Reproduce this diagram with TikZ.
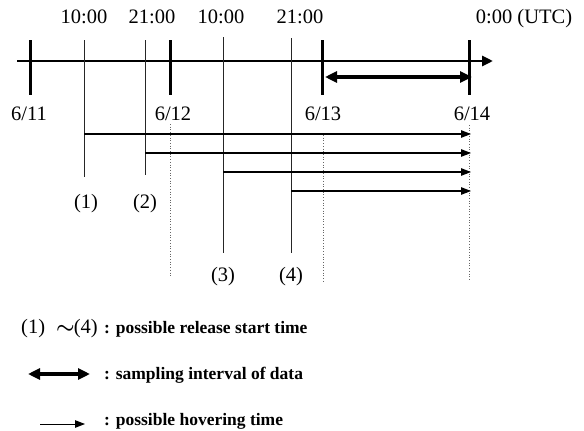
\documentclass[tikz,border=0pt]{standalone}
\usepackage{fontspec}
\setmainfont{Liberation Serif}
\usetikzlibrary{arrows.meta}
\begin{document}
\begin{tikzpicture}[x=1pt,y=-1pt,
  lbl/.style={inner sep=0pt,anchor=base,font=\fontsize{20.5}{21}\selectfont},
  leg/.style={inner sep=0pt,anchor=base west,font=\fontsize{17.5}{18}\selectfont\bfseries},
  axisline/.style={line width=2.8pt,-{Triangle[length=11pt,width=10pt]}},
  daytick/.style={line width=3pt},
  hourline/.style={line width=1pt,black!85},
  guide/.style={line width=0.7pt,dotted,black!60},
  hover/.style={line width=1.2pt,-{Triangle[length=10pt,width=7.5pt]}},
  sampling/.style={line width=3.6pt,{Triangle[length=12pt,width=11pt]}-{Triangle[length=12pt,width=11pt]}},
]
\useasboundingbox (0,0) rectangle (584,431);

% time axis
\coordinate (ax0) at (17,61);
\coordinate (ax1) at (493,61);
\draw[axisline] (ax0) -- (ax1);

% day ticks
\foreach \n/\x in {d11/30,d12/170,d13/322,d14/469}{
  \coordinate (\n t) at (\x,40);
  \coordinate (\n b) at (\x,95);
  \draw[daytick] (\n t) -- (\n b);
}

% dotted day guides
\coordinate (g12t) at (170,124); \coordinate (g12b) at (170,277);
\coordinate (g13t) at (323,135); \coordinate (g13b) at (323,282);
\coordinate (g14t) at (469,125); \coordinate (g14b) at (469,280);
\draw[guide] (g12t) -- (g12b);
\draw[guide] (g13t) -- (g13b);
\draw[guide] (g14t) -- (g14b);

% release start lines
\coordinate (r1t) at (84,40);  \coordinate (r1b) at (84,177);
\coordinate (r2t) at (145,40); \coordinate (r2b) at (145,175);
\coordinate (r3t) at (223,37); \coordinate (r3b) at (223,253);
\coordinate (r4t) at (291,38); \coordinate (r4b) at (291,253);
\draw[hourline] (r1t) -- (r1b);
\draw[hourline] (r2t) -- (r2b);
\draw[hourline] (r3t) -- (r3b);
\draw[hourline] (r4t) -- (r4b);

% hovering arrows
\coordinate (h1s) at (84,134);  \coordinate (h1e) at (471,134);
\coordinate (h2s) at (145,153); \coordinate (h2e) at (471,153);
\coordinate (h3s) at (223,172); \coordinate (h3e) at (471,172);
\coordinate (h4s) at (291,191); \coordinate (h4e) at (471,191);
\draw[hover] (h1s) -- (h1e);
\draw[hover] (h2s) -- (h2e);
\draw[hover] (h3s) -- (h3e);
\draw[hover] (h4s) -- (h4e);

% sampling interval
\coordinate (s0) at (325,77);
\coordinate (s1) at (472,77);
\draw[sampling] (s0) -- (s1);

% hour labels
\node[lbl] (t1) at (84,23.5) {10:00};
\node[lbl] (t2) at (152,23.5) {21:00};
\node[lbl] (t3) at (221,23.5) {10:00};
\node[lbl] (t4) at (300,23.5) {21:00};
\node[lbl] (t5) at (524,23.5) {0:00 (UTC)};

% date labels
\node[lbl] (l11) at (29,120) {6/11};
\node[lbl] (l12) at (173,120) {6/12};
\node[lbl] (l13) at (323,120) {6/13};
\node[lbl] (l14) at (472,120) {6/14};

% case numbers
\node[lbl] (c1) at (86,208) {(1)};
\node[lbl] (c2) at (145,208) {(2)};
\node[lbl] (c3) at (223,281) {(3)};
\node[lbl] (c4) at (291,281) {(4)};

% legend
\node[lbl,anchor=base west] (k1) at (21,333) {(1)};
\node[lbl,anchor=base west] (k4) at (56,333) {{\boldmath$\sim$}\kern-1pt(4)};
\node[leg] (k1t) at (104,333) {: possible release start time};

\coordinate (ks0) at (28,374);
\coordinate (ks1) at (90,374);
\draw[sampling,line width=4pt] (ks0) -- (ks1);
\node[leg] (k2t) at (104,379) {: sampling interval of data};

\coordinate (kh0) at (40,424);
\coordinate (kh1) at (85,424);
\draw[hover,line width=1pt] (kh0) -- (kh1);
\node[leg] (k3t) at (104,425) {: possible hovering time};
\end{tikzpicture}
\end{document}
